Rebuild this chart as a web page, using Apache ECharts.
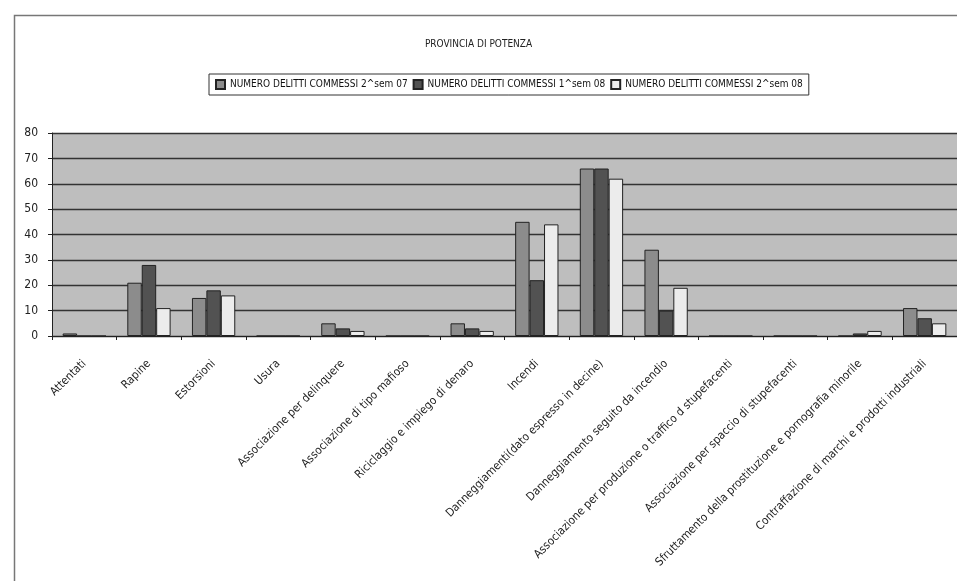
<!DOCTYPE html>
<html><head><meta charset="utf-8">
<script src="https://cdn.jsdelivr.net/npm/echarts@6/dist/echarts.min.js"></script>
<style>html,body{margin:0;padding:0;background:#fff}#c{width:957px;height:581px}</style>
</head><body><div id="c"></div>
<script>
const categories = ["Attentati","Rapine","Estorsioni","Usura","Associazione per delinquere","Associazione di tipo mafioso","Riciclaggio e impiego di denaro","Incendi","Danneggiamenti(dato espresso in decine)","Danneggiamento seguito da incendio","Associazione per produzione o traffico d stupefacenti","Associazione per spaccio di stupefacenti","Sfruttamento della prostituzione e pornografia minorile","Contraffazione di marchi e prodotti industriali"];
const seriesNames = ["NUMERO DELITTI COMMESSI 2^sem 07","NUMERO DELITTI COMMESSI 1^sem 08","NUMERO DELITTI COMMESSI 2^sem 08"];
const sem2_07 = [1,21,15,0,5,0,5,45,66,34,0,0,0,11];
const sem1_08 = [0,28,18,0,3,0,3,22,66,10,0,0,1,7];
const sem2_08 = [0,11,16,0,2,0,2,44,62,19,0,0,2,5];
const yTicks = [0,10,20,30,40,50,60,70,80];

const FONT = "'Liberation Sans Narrow','DejaVu Sans Condensed','Liberation Sans',sans-serif";
const colors = ["#8c8c8c","#525252","#ececec"];
const chart = echarts.init(document.getElementById('c'), null, {renderer:'canvas'});
const values = [sem2_07, sem1_08, sem2_08];
chart.setOption({
  animation:false,
  backgroundColor:'#ffffff',
  textStyle:{fontFamily:FONT},
  graphic:[{type:'rect',left:12,top:13,shape:{width:960,height:580},style:{fill:'none',stroke:'#777',lineWidth:1.5},silent:true}],
  title:{text:'PROVINCIA DI POTENZA',left:'center',top:34,textStyle:{fontFamily:FONT,fontSize:10,fontWeight:'normal',color:'#222'}},
  legend:{top:74,left:209,icon:'rect',itemWidth:9,itemHeight:9,itemGap:5,padding:[5,6,5,6],borderColor:'#333',borderWidth:1,backgroundColor:'#fff',
    textStyle:{fontFamily:FONT,fontSize:10,color:'#111'},data:seriesNames},
  grid:{left:52,right:-5,top:133,bottom:245,show:true,backgroundColor:'#bebebe',borderWidth:0},
  xAxis:{type:'category',data:categories,
    axisLine:{lineStyle:{color:'#222',width:1}},
    axisTick:{show:true,length:4,lineStyle:{color:'#222'}},
    axisLabel:{rotate:45,interval:0,fontFamily:FONT,fontSize:11.5,color:'#222',margin:26}},
  yAxis:{type:'value',min:0,max:80,interval:10,
    axisLine:{show:true,lineStyle:{color:'#222'}},
    axisTick:{show:true,length:4,lineStyle:{color:'#222'}},
    splitLine:{lineStyle:{color:'#333',width:1.3}},
    axisLabel:{fontFamily:FONT,fontSize:12,color:'#222',margin:14,
      formatter:v=>yTicks.includes(v)?String(v):''}},
  series: seriesNames.map((n,i)=>({name:n,type:'bar',data:values[i],barGap:'0%',barCategoryGap:'33%',
    itemStyle:{color:colors[i],borderColor:'#222',borderWidth:1}}))
});
</script></body></html>
